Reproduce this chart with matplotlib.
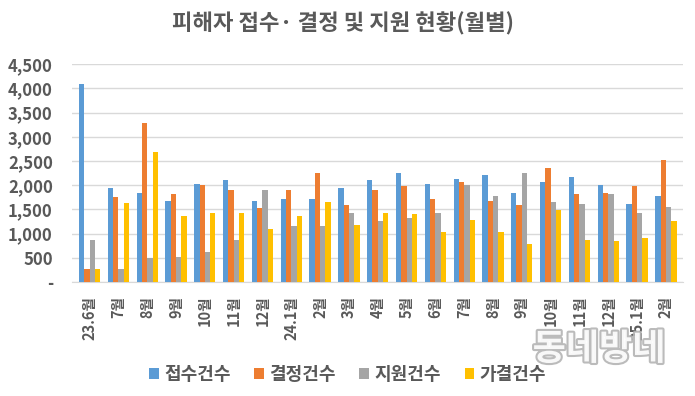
import numpy as np
import matplotlib.pyplot as plt
import matplotlib.patheffects as pe
from matplotlib.ticker import FuncFormatter

plt.rcParams['font.family'] = ['Noto Sans CJK KR', 'DejaVu Sans']

# data
months = ["23.6월", "7월", "8월", "9월", "10월", "11월", "12월", "24.1월", "2월", "3월", "4월",
          "5월", "6월", "7월", "8월", "9월", "10월", "11월", "12월", "25.1월", "2월"]
received = [4090, 1940, 1840, 1680, 2030, 2100, 1680, 1710, 1710, 1940, 2100,
            2260, 2030, 2130, 2200, 1840, 2060, 2160, 2000, 1620, 1780]
decided = [270, 1750, 3290, 1810, 2000, 1900, 1520, 1900, 2260, 1590, 1910,
           1980, 1710, 2060, 1680, 1590, 2360, 1810, 1840, 1980, 2520]
supported = [870, 270, 500, 510, 620, 870, 1900, 1160, 1160, 1420, 1260,
             1330, 1420, 2000, 1780, 2250, 1650, 1620, 1810, 1420, 1550]
approved = [270, 1640, 2680, 1360, 1420, 1420, 1100, 1360, 1650, 1170, 1420,
            1400, 1040, 1290, 1040, 780, 1490, 870, 840, 910, 1260]

series = [("접수건수", received, "#5B9BD5"),
          ("결정건수", decided, "#ED7D31"),
          ("지원건수", supported, "#A5A5A5"),
          ("가결건수", approved, "#FFC000")]

txt = "#595959"
fig = plt.figure(figsize=(6.95, 3.96), dpi=100)
ax = fig.add_axes([0.104, 0.288, 0.879, 0.55])

x = np.arange(len(months))
w = 0.185
for i, (name, vals, col) in enumerate(series):
    ax.bar(x + (i - 1.5) * w, vals, w, color=col, label=name, zorder=3)

ax.set_ylim(0, 4500)
ax.set_yticks(np.arange(0, 4501, 500))
ax.yaxis.set_major_formatter(FuncFormatter(lambda v, p: "-" if v == 0 else f"{int(v):,}"))
ax.set_xlim(-0.6, len(months) - 0.4)
ax.grid(axis="y", color="#d9d9d9", linewidth=1, zorder=0)
for s in ["top", "right", "left"]:
    ax.spines[s].set_visible(False)
ax.spines["bottom"].set_color("#d9d9d9")
ax.tick_params(axis="both", length=0, colors=txt)
ax.tick_params(axis="y", pad=14, labelsize=12)
for t in ax.get_yticklabels():
    t.set_fontweight("bold")

ax.set_xticks(x)
ax.set_xticklabels(months, rotation=90, fontsize=10.5, fontweight="bold", color=txt)
ax.tick_params(axis="x", pad=10)

fig.suptitle("피해자 접수· 결정 및 지원 현황(월별)", x=0.494, y=0.97, fontsize=16,
             fontweight="bold", color=txt)

leg = fig.legend(loc="center", bbox_to_anchor=(0.5, 0.055), ncol=4, frameon=False,
                 handlelength=0.55, handleheight=0.55, handletextpad=0.3, columnspacing=1.3,
                 prop={"size": 13, "weight": "bold"})
for t in leg.get_texts():
    t.set_color(txt)

# watermark
fig.text(0.862, 0.118, "동네방네", ha="center", va="center", fontsize=26, fontweight="bold",
         color="white", alpha=0.9,
         path_effects=[pe.withStroke(linewidth=3, foreground="#b4b4b4")])

fig.savefig("out.png", dpi=100)
